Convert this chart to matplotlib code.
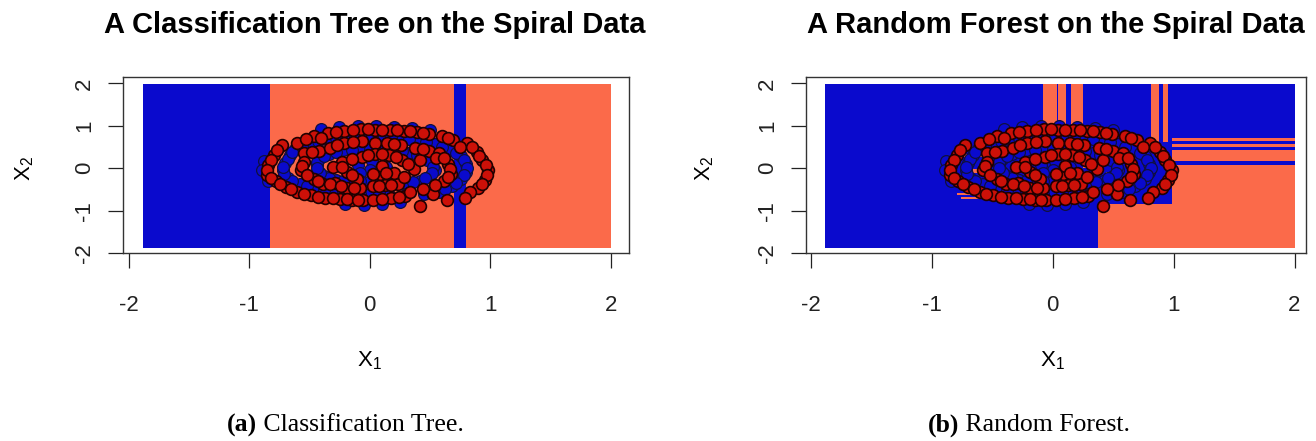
import numpy as np
import matplotlib
matplotlib.use('Agg')
import matplotlib.pyplot as plt
from matplotlib.colors import ListedColormap

plt.rcParams['font.family'] = ['Liberation Sans', 'DejaVu Sans']
plt.rcParams['mathtext.fontset'] = 'custom'
plt.rcParams['mathtext.rm'] = 'Liberation Sans'
plt.rcParams['axes.unicode_minus'] = False

CORAL = '#FB6A4A'
BLUE = '#0A0ACD'

# spiral data: class 1 (red) and class 2 (blue)
red_x = [-0.463, -0.344, -0.214, -0.068, 0.042, 0.166, 0.282, 0.392, 0.489, 0.599, 0.695, 0.806, 0.888,
         0.930, 0.985, 0.957, 0.902, 0.833, 0.792,
         -0.600, -0.724, -0.793, -0.843, -0.849, -0.780, -0.697, -0.600, -0.490,
         -0.366, -0.242, -0.146, -0.055, 0.028, 0.177, 0.296, 0.420, 0.640, 0.530,
         -0.545, -0.421, -0.330, -0.214, -0.063, 0.047, 0.144, 0.260, 0.497, 0.580, 0.649, 0.673,
         0.618, 0.544, 0.447, 0.337,
         -0.573, -0.545, -0.463, -0.385, -0.283, -0.187, -0.077, 0.028, 0.130, 0.232,
         -0.228, -0.187, -0.063, 0.047, 0.158, 0.268, 0.365, 0.089, 0.199, 0.282, -0.104, 0.420,
         0.380, -0.300, 0.100, 0.550, -0.400, 0.750,
         -0.280, -0.140, -0.010, 0.105, 0.225, 0.335, 0.445, 0.650, 0.850, 0.912, 0.962, 0.975, 0.930,
         -0.530, -0.765, -0.820, -0.852, -0.815, -0.740, -0.650, -0.548,
         -0.430, -0.300, -0.190, -0.100, 0.100, 0.240,
         -0.480, -0.270, -0.140, 0.200, 0.440, 0.620, 0.668, 0.650,
         -0.560, -0.520, -0.430, -0.330, -0.240, -0.130, 0.080, 0.180,
         -0.150, -0.010, 0.100, 0.220, 0.320, -0.230, 0.030, 0.140, -0.150]
red_y = [0.756, 0.835, 0.866, 0.921, 0.898, 0.898, 0.882, 0.858, 0.795, 0.756, 0.661, 0.583, 0.386,
         0.189, -0.047, -0.284, -0.457, -0.559, -0.693,
         0.606, 0.543, 0.307, 0.071, -0.165, -0.299, -0.441, -0.559, -0.638,
         -0.701, -0.717, -0.740, -0.740, -0.756, -0.701, -0.654, -0.898, -0.740, -0.599,
         0.362, 0.409, 0.488, 0.598, 0.638, 0.598, 0.583, 0.543, 0.409, 0.362, 0.110, -0.126,
         -0.299, -0.402, -0.480, -0.559,
         -0.047, 0.150, -0.244, -0.378, -0.346, -0.465, -0.457, -0.425, -0.402, -0.362,
         0.150, -0.087, 0.268, 0.346, 0.323, 0.189, -0.008, -0.126, -0.110, -0.205, -0.244, 0.189,
         0.480, 0.020, 0.060, 0.250, 0.720, 0.500,
         0.850, 0.900, 0.915, 0.900, 0.890, 0.870, 0.830, 0.710, 0.490, 0.290, 0.070, -0.170, -0.370,
         0.690, 0.430, 0.190, -0.050, -0.240, -0.370, -0.500, -0.600,
         -0.670, -0.710, -0.730, -0.745, -0.730, -0.680,
         0.380, 0.550, 0.620, 0.570, 0.450, 0.240, -0.010, -0.210,
         0.050, -0.150, -0.310, -0.370, -0.410, -0.460, -0.410, -0.390,
         0.210, 0.310, 0.340, 0.270, 0.100, 0.040, -0.130, -0.120, -0.170]

blue_x = [-0.40, -0.25, -0.10, 0.05, 0.20, 0.35, 0.50, -0.88, -0.89, -0.84, -0.20, -0.05, 0.10, 0.25,
          -0.66, -0.62, -0.50, -0.36, -0.20, -0.05, 0.10, 0.25, 0.40, 0.54, 0.66, 0.76, 0.80, 0.80,
          0.76, 0.68, 0.58, 0.45, 0.15, 0.00, -0.15, -0.30, -0.45, -0.58, -0.68, -0.72, -0.70,
          -0.44, -0.42, -0.34, -0.22, -0.08, 0.06, 0.20, 0.33, 0.44, 0.52, 0.54, 0.50, 0.42, 0.30,
          0.15, 0.00, -0.15, -0.28, -0.38, -0.43,
          -0.10, 0.02, 0.14, 0.00, -0.08,
          -0.68, -0.64, -0.56, -0.43, -0.28, -0.12, 0.02, 0.18, 0.33, 0.47, 0.60, 0.72, 0.78, 0.81,
          0.78, 0.72, 0.63, 0.52, 0.30, 0.08, -0.08, -0.22, -0.38, -0.52, -0.64, -0.71, -0.72,
          -0.44, -0.38, -0.28, -0.15, 0.00, 0.13, 0.27, 0.39, 0.48, 0.53, 0.52, 0.46, 0.36, 0.22,
          0.08, -0.08, -0.22, -0.34, -0.41, -0.44]
blue_y = [0.93, 0.98, 1.00, 1.00, 0.98, 0.95, 0.90, 0.18, -0.05, -0.30, -0.84, -0.86, -0.84, -0.80,
          0.30, 0.45, 0.58, 0.68, 0.74, 0.77, 0.76, 0.72, 0.66, 0.56, 0.44, 0.28, 0.10, -0.08,
          -0.26, -0.42, -0.55, -0.62, -0.58, -0.60, -0.60, -0.56, -0.48, -0.38, -0.22, -0.05, 0.12,
          0.08, 0.22, 0.34, 0.42, 0.46, 0.46, 0.43, 0.36, 0.26, 0.12, -0.04, -0.18, -0.30, -0.34,
          -0.30, -0.30, -0.32, -0.28, -0.18, -0.06,
          0.08, 0.16, 0.04, -0.04, -0.12,
          0.21, 0.38, 0.52, 0.64, 0.72, 0.76, 0.77, 0.74, 0.69, 0.61, 0.50, 0.36, 0.19, 0.01,
          -0.17, -0.34, -0.49, -0.59, -0.60, -0.59, -0.60, -0.58, -0.52, -0.43, -0.30, -0.14, 0.04,
          0.15, 0.28, 0.38, 0.44, 0.46, 0.45, 0.40, 0.31, 0.19, 0.04, -0.11, -0.24, -0.33, -0.32,
          -0.30, -0.31, -0.30, -0.23, -0.12, 0.01]

# prediction grid extent
grid_x = (-1.88, 2.0)
grid_y = (-1.89, 1.97)

# tree: splits on X1, predicted class per slab (1 = blue, 0 = coral)
tree_splits = [-0.83, 0.70, 0.80]
tree_class = [1, 0, 1, 0]

# forest: coral regions on a blue background
rf_x0 = [0.375, 0.985, 0.985, 0.985, 0.985, -0.082, 0.050, 0.150, 0.811, 0.911,
         -0.79, -0.76, -0.74, -0.70, 0.50, 0.25, 0.75, 0.44]
rf_x1 = [2.0, 2.0, 2.0, 2.0, 2.0, 0.034, 0.110, 0.254, 0.874, 0.957,
         -0.55, -0.58, -0.57, -0.62, 0.58, 0.32, 0.82, 0.50]
rf_y0 = [-1.89, -0.85, 0.15, 0.50, 0.62, 0.95, 0.95, 0.95, 0.60, 0.60,
         -0.64, -0.74, 0.26, -0.12, 0.54, -0.02, -0.02, -0.18]
rf_y1 = [-0.85, 0.07, 0.41, 0.57, 0.70, 1.97, 1.97, 1.97, 1.97, 1.97,
         -0.60, -0.70, 0.32, -0.04, 0.62, 0.06, 0.08, -0.10]

nx, ny = 600, 600
gx = np.linspace(grid_x[0], grid_x[1], nx)
gy = np.linspace(grid_y[0], grid_y[1], ny)
GX, GY = np.meshgrid(gx, gy)

tree_grid = np.array(tree_class)[np.digitize(GX, tree_splits)]

rf_grid = np.ones_like(GX)
for x0, x1, y0, y1 in zip(rf_x0, rf_x1, rf_y0, rf_y1):
    rf_grid[(GX >= x0) & (GX <= x1) & (GY >= y0) & (GY <= y1)] = 0

cmap = ListedColormap([CORAL, BLUE])


def draw_panel(ax, grid, xlim):
    ax.imshow(grid, extent=[grid_x[0], grid_x[1], grid_y[0], grid_y[1]], origin='lower',
              cmap=cmap, vmin=0, vmax=1, aspect='auto', interpolation='nearest', zorder=0)
    ax.scatter(blue_x, blue_y, s=72, c=BLUE, edgecolors='#101040', linewidths=0.9, zorder=2)
    ax.scatter(red_x, red_y, s=72, c='#CC1008', edgecolors='#200000', linewidths=1.2, zorder=3)
    ax.set_xlim(*xlim)
    ax.set_ylim(-2.0, 2.15)
    ax.set_xticks([-2, -1, 0, 1, 2])
    ax.set_yticks([-2, -1, 0, 1, 2])
    ax.tick_params(direction='out', length=11, width=0.9, labelsize=16, colors='#222222')
    ax.tick_params(axis='x', pad=19)
    ax.tick_params(axis='y', pad=9)
    for lbl in ax.get_yticklabels():
        lbl.set_rotation(90)
        lbl.set_va('center')
    for sp in ax.spines.values():
        sp.set_linewidth(1.0)
        sp.set_color('#333333')
    ax.text(0, -0.614, r'$\mathrm{X}_1$', transform=ax.get_xaxis_transform(),
            ha='center', va='center', fontsize=16)


fig = plt.figure(figsize=(13.16, 4.41), dpi=100)
ax1 = fig.add_axes([0.0935, 0.4263, 0.3842, 0.399])
ax2 = fig.add_axes([0.6122, 0.4263, 0.3802, 0.399])

draw_panel(ax1, tree_grid, (-2.046, 2.15))
draw_panel(ax2, rf_grid, (-2.043, 2.095))
ax1.text(-0.194, 0, r'$\mathrm{X}_2$', transform=ax1.get_yaxis_transform(),
         ha='center', va='center', rotation=90, fontsize=16)
ax2.text(-0.201, 0, r'$\mathrm{X}_2$', transform=ax2.get_yaxis_transform(),
         ha='center', va='center', rotation=90, fontsize=16)

fig.text(0.285, 0.943, 'A Classification Tree on the Spiral Data', ha='center', va='center',
         fontsize=21, fontweight='bold')
fig.text(0.8024, 0.943, 'A Random Forest on the Spiral Data', ha='center', va='center',
         fontsize=21, fontweight='bold')

# subfigure captions: bold tag followed by plain text
serif = ['Liberation Serif', 'DejaVu Serif']
renderer = fig.canvas.get_renderer()
for x_left, tag, rest in [(227 / 1316, '(a)', ' Classification Tree.'),
                          (928 / 1316, '(b)', ' Random Forest.')]:
    t = fig.text(x_left, 0.036, tag, ha='left', va='center', fontsize=18.5,
                 fontweight='bold', family=serif)
    bb = t.get_window_extent(renderer=renderer)
    fig.text(bb.x1 / fig.bbox.width, 0.036, rest, ha='left', va='center', fontsize=18.5, family=serif)

fig.savefig('out.png', dpi=100)
